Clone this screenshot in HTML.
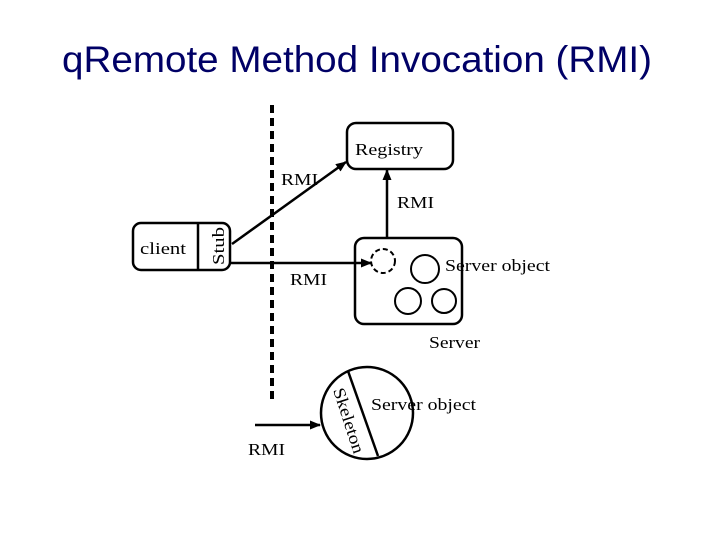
<!DOCTYPE html>
<html><head><meta charset="utf-8"><style>
body{margin:0;background:#fff;width:720px;height:540px;overflow:hidden}
</style></head><body>
<svg width="720" height="540" xmlns="http://www.w3.org/2000/svg">
<defs><marker id="a" markerWidth="11" markerHeight="9" refX="10" refY="4.5" orient="auto" markerUnits="userSpaceOnUse"><path d="M0,0 L11,4.5 L0,9 z" fill="#000"/></marker></defs>
<text x="62" y="72" font-family="Liberation Sans, sans-serif" font-size="37" fill="#000066" textLength="590" lengthAdjust="spacingAndGlyphs">qRemote Method Invocation (RMI)</text>
<g font-family="Liberation Serif, serif" font-size="17" fill="#000">
<line x1="272" y1="105" x2="272" y2="400" stroke="#000" stroke-width="4" stroke-dasharray="8,5"/>
<rect x="347" y="123" width="106" height="46" rx="9" fill="none" stroke="#000" stroke-width="2.5"/>
<text x="355" y="155" textLength="68" lengthAdjust="spacingAndGlyphs">Registry</text>
<rect x="133" y="223" width="97" height="47" rx="8" fill="none" stroke="#000" stroke-width="2.5"/>
<line x1="198" y1="223" x2="198" y2="270" stroke="#000" stroke-width="2.5"/>
<text x="140" y="254" textLength="46" lengthAdjust="spacingAndGlyphs">client</text>
<text transform="translate(224,265) rotate(-90)" textLength="38" lengthAdjust="spacingAndGlyphs">Stub</text>
<line x1="232" y1="244" x2="346" y2="162" stroke="#000" stroke-width="2.5" marker-end="url(#a)"/>
<line x1="230" y1="263" x2="371" y2="263" stroke="#000" stroke-width="2.5" marker-end="url(#a)"/>
<line x1="387" y1="238" x2="387" y2="170" stroke="#000" stroke-width="2.5" marker-end="url(#a)"/>
<rect x="355" y="238" width="107" height="86" rx="9" fill="none" stroke="#000" stroke-width="2.5"/>
<circle cx="383" cy="261" r="12" fill="none" stroke="#000" stroke-width="2" stroke-dasharray="5,3"/>
<circle cx="425" cy="269" r="14" fill="none" stroke="#000" stroke-width="2"/>
<circle cx="408" cy="301" r="13" fill="none" stroke="#000" stroke-width="2"/>
<circle cx="444" cy="301" r="12" fill="none" stroke="#000" stroke-width="2"/>
<text x="445" y="271" textLength="105" lengthAdjust="spacingAndGlyphs">Server object</text>
<text x="429" y="348" textLength="51" lengthAdjust="spacingAndGlyphs">Server</text>
<text x="281" y="185" textLength="37" lengthAdjust="spacingAndGlyphs">RMI</text>
<text x="397" y="208" textLength="37" lengthAdjust="spacingAndGlyphs">RMI</text>
<text x="290" y="285" textLength="37" lengthAdjust="spacingAndGlyphs">RMI</text>
<circle cx="367" cy="413" r="46" fill="none" stroke="#000" stroke-width="2.5"/>
<line x1="348" y1="371" x2="378" y2="456" stroke="#000" stroke-width="2.5"/>
<text x="371" y="410" textLength="105" lengthAdjust="spacingAndGlyphs">Server object</text>
<text transform="translate(333,390) rotate(72)" textLength="68" lengthAdjust="spacingAndGlyphs">Skeleton</text>
<line x1="255" y1="425" x2="320" y2="425" stroke="#000" stroke-width="2.5" marker-end="url(#a)"/>
<text x="248" y="455" textLength="37" lengthAdjust="spacingAndGlyphs">RMI</text>
</g>
</svg>
</body></html>
